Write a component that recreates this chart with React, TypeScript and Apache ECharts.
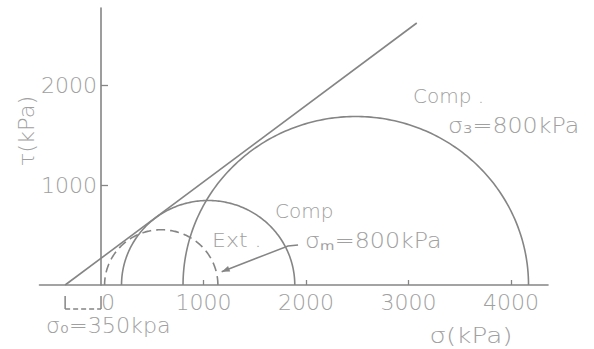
import React, { useEffect, useRef } from "react";
import * as echarts from "echarts";

// Axis setup (kPa)
const sigmaRange = [-600, 4360];
const tauRange = [0, 2770];
const xLabelValues = [0, 1000, 2000, 3000, 4000];
const xTickValues = [1000, 2000, 3000, 4000];
const yLabelValues = [1000, 2000];
const yTickValues = [1000, 2000];

// Mohr circles: [sigma3, sigma1]
const extCircle = [35, 1140];
const compMeanCircle = [200, 1890];
const compConfCircle = [800, 4170];

// Failure envelope (sigma, tau)
const envelope = [
  [-350, 0],
  [3080, 2620],
];

// sigma0 dimension marker
const sigma0 = 350;
const dimLeft = [
  [-sigma0, -110],
  [-sigma0, -240],
];
const dimRight = [
  [0, -110],
  [0, -240],
];
const dimDashed = [
  [-sigma0, -240],
  [0, -240],
];

// leader arrow from "σm=800kPa" to the extension circle
const leader = [
  [1922, 400],
  [1824, 390],
  [1177, 133],
];

const LINE = "#858585";
const TEXT = "#a0a0a0";
const FONT = "DejaVu Sans";
const WEIGHT = 200;

const GRID_LEFT = 39.5;
const GRID_RIGHT = 46;
const CHART_W = 594;

function circleSeries(c: number[], dashed: boolean) {
  return {
    type: "custom",
    clip: false,
    silent: true,
    data: [c],
    renderItem: (_p: any, api: any) => {
      const s3 = api.value(0);
      const s1 = api.value(1);
      const cx = (s1 + s3) / 2;
      const r = (s1 - s3) / 2;
      const pts: number[][] = [];
      for (let i = 0; i <= 180; i++) {
        const t = (Math.PI * i) / 180;
        pts.push(api.coord([cx + r * Math.cos(t), r * Math.sin(t)]));
      }
      return {
        type: "polyline",
        shape: { points: pts },
        style: {
          stroke: LINE,
          lineWidth: 1.6,
          fill: null,
          lineDash: dashed ? [9, 5] : null,
        },
      };
    },
  };
}

function pathSeries(points: number[][], dashed: boolean, arrow: boolean) {
  return {
    type: "custom",
    clip: false,
    silent: true,
    data: points,
    renderItem: (p: any, api: any) => {
      if (p.dataIndex !== 0) return null;
      const pts = points.map((d) => api.coord(d));
      const children: any[] = [
        {
          type: "polyline",
          shape: { points: pts },
          style: {
            stroke: LINE,
            lineWidth: 1.5,
            fill: null,
            lineDash: dashed ? [5, 3] : null,
          },
        },
      ];
      if (arrow) {
        const a = pts[pts.length - 2];
        const b = pts[pts.length - 1];
        const dx = b[0] - a[0];
        const dy = b[1] - a[1];
        const len = Math.hypot(dx, dy);
        const ux = dx / len;
        const uy = dy / len;
        const L = 8;
        const W = 3;
        children.push({
          type: "polygon",
          shape: {
            points: [
              b,
              [b[0] - ux * L - uy * W, b[1] - uy * L + ux * W],
              [b[0] - ux * L + uy * W, b[1] - uy * L - ux * W],
            ],
          },
          style: { fill: LINE, stroke: null },
        });
      }
      return { type: "group", children };
    },
  };
}

function txt(text: string, x: number, y: number, extra: any = {}) {
  const { style, ...rest } = extra;
  return {
    type: "text",
    x,
    y,
    silent: true,
    ...rest,
    style: {
      text,
      fontSize: 21,
      fontFamily: FONT,
      fontWeight: WEIGHT,
      fill: TEXT,
      align: "left",
      verticalAlign: "middle",
      ...(style || {}),
    },
  };
}

export default function App() {
  const ref = useRef<HTMLDivElement>(null);

  useEffect(() => {
    document.body.style.margin = "0";
    if (!ref.current) return;
    const chart = echarts.init(ref.current, null, { renderer: "svg" });
    const gridW = CHART_W - GRID_LEFT - GRID_RIGHT;
    const yAxisOffset = -((0 - sigmaRange[0]) / (sigmaRange[1] - sigmaRange[0])) * gridW;
    const option: any = {
      animation: false,
      backgroundColor: "#ffffff",
      grid: {
        left: GRID_LEFT,
        right: GRID_RIGHT,
        top: 8,
        bottom: 64,
        containLabel: false,
        outerBoundsMode: "none",
      },
      xAxis: {
        type: "value",
        min: sigmaRange[0],
        max: sigmaRange[1],
        splitLine: { show: false },
        axisLine: { show: true, onZero: false, lineStyle: { color: LINE, width: 1.6 } },
        axisTick: {
          show: true,
          inside: true,
          length: 5,
          customValues: xTickValues,
          lineStyle: { color: LINE, width: 1.3 },
        },
        axisLabel: {
          show: true,
          customValues: xLabelValues,
          margin: 6,
          color: TEXT,
          fontSize: 22,
          fontFamily: FONT,
          fontWeight: WEIGHT,
          formatter: (v: number) => (v === 0 ? "{z|0}" : String(v)),
          rich: {
            z: {
              padding: [0, 0, 0, 14],
              fontSize: 22,
              fontFamily: FONT,
              fontWeight: WEIGHT,
              color: TEXT,
            },
          },
        },
      },
      yAxis: {
        type: "value",
        min: tauRange[0],
        max: tauRange[1],
        offset: yAxisOffset,
        splitLine: { show: false },
        axisLine: { show: true, onZero: false, lineStyle: { color: LINE, width: 1.6 } },
        axisTick: {
          show: true,
          inside: true,
          length: 7,
          customValues: yTickValues,
          lineStyle: { color: LINE, width: 1.3 },
        },
        axisLabel: {
          show: true,
          customValues: yLabelValues,
          margin: 4,
          color: TEXT,
          fontSize: 22,
          fontFamily: FONT,
          fontWeight: WEIGHT,
          formatter: (v: number) => String(v),
        },
      },
      series: [
        {
          type: "line",
          data: envelope,
          showSymbol: false,
          silent: true,
          lineStyle: { color: LINE, width: 1.6 },
        },
        circleSeries(extCircle, true),
        circleSeries(compMeanCircle, false),
        circleSeries(compConfCircle, false),
        pathSeries(dimLeft, false, false),
        pathSeries(dimRight, false, false),
        pathSeries(dimDashed, true, false),
        pathSeries(leader, false, true),
      ],
      graphic: [
        txt("τ(kPa)", 27, 131, { rotation: Math.PI / 2, scaleX: 1.07, style: { align: "center" } }),
        txt("σ(kPa)", 471, 336, { scaleX: 1.25, style: { align: "center" } }),
        txt("σ₀=350kpa", 46, 326, { scaleX: 1.06 }),
        txt("Comp .", 413, 96, { style: { fontSize: 20 } }),
        txt("σ₃=800kPa", 448, 126, { scaleX: 1.13 }),
        txt("Comp", 275, 211, { style: { fontSize: 20 } }),
        txt("σₘ=800kPa", 305, 241, { scaleX: 1.13 }),
        txt("Ext .", 212, 240, { scaleX: 1.1, style: { fontSize: 20 } }),
      ],
    };
    chart.setOption(option);
    return () => chart.dispose();
  }, []);

  return <div ref={ref} style={{ width: 594, height: 349 }} />;
}
